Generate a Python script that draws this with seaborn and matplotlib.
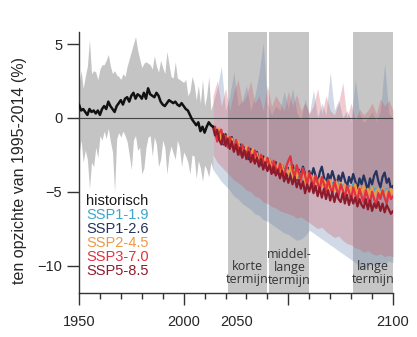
import matplotlib
matplotlib.use("Agg")
import matplotlib.pyplot as plt
import seaborn as sns
import pandas as pd
from matplotlib.lines import Line2D

# ---------------- data ----------------
hist_years = list(range(1950, 2015))
hist_mean = [0.9, 0.5, 0.6, 0.4, 0.2, 0.6, 0.4, 0.5, 0.3, 0.5,
             0.2, 0.6, 0.8, 0.6, 1.1, 0.8, 0.6, 0.4, 0.8, 1.0,
             1.2, 0.9, 1.3, 1.4, 1.1, 1.5, 1.7, 1.3, 1.6, 1.5,
             1.3, 1.7, 1.3, 2.0, 1.6, 1.5, 1.4, 1.7, 1.5, 1.1,
             0.9, 0.8, 1.0, 1.2, 1.1, 1.0, 1.1, 0.9, 0.8, 1.0,
             0.8, 0.6, 0.5, 0.2, -0.1, -0.3, -0.5, -0.3, -0.9, -0.6,
             -1.0, -0.6, -0.3, -0.5, -0.6]
hist_hi = [2.3, 3.2, 2.0, 2.8, 3.5, 5.3, 3.0, 3.2, 3.1, 2.6,
           3.3, 3.6, 3.6, 3.9, 4.3, 3.5, 3.0, 3.2, 2.9, 2.8,
           2.6, 3.0, 2.8, 3.5, 4.0, 4.5, 5.0, 5.5, 4.6, 4.0,
           3.4, 3.7, 3.8, 3.7, 3.6, 3.3, 4.2, 3.5, 3.1, 3.9,
           3.4, 3.0, 4.5, 3.6, 2.8, 2.7, 3.8, 2.7, 2.6, 2.5,
           2.4, 2.6, 1.5, 1.8, 2.8, 2.3, 1.2, 2.2, 1.0, 2.6,
           0.8, 1.5, 2.8, 0.5, 1.0]
hist_lo = [-2.5, -1.5, -3.0, -2.2, -2.8, -4.8, -3.0, -3.3, -2.0, -2.7,
           -1.2, -1.5, -0.9, -1.4, -0.7, -1.6, -2.3, -5.0, -1.4, -1.0,
           -1.3, -0.9, -1.2, -1.6, -2.5, -3.5, -1.5, -1.2, -2.2, -2.0,
           -3.8, -3.4, -2.0, -1.3, -1.2, -2.6, -1.3, -1.8, -3.3, -2.8,
           -1.5, -2.0, -3.8, -2.5, -1.9, -2.4, -2.8, -1.5, -2.0, -3.3,
           -2.3, -2.6, -3.0, -3.8, -2.5, -2.6, -4.1, -2.9, -3.4, -4.3,
           -3.2, -3.5, -4.0, -3.0, -3.5]

scen_years = list(range(2014, 2101))
ssp119 = [-0.6,
          -1.0, -1.2, -1.5, -1.1, -1.6, -1.4, -1.8, -1.6, -2.0, -1.7,
          -2.0, -2.3, -1.9, -2.2, -2.5, -2.3, -2.6, -2.4, -2.8, -2.6,
          -2.9, -2.7, -3.0, -2.8, -3.2, -3.0, -3.3, -3.1, -3.4, -3.3,
          -3.5, -3.3, -3.7, -3.5, -3.8, -3.6, -3.9, -3.7, -4.0, -3.8,
          -4.0, -3.8, -4.1, -3.9, -4.2, -4.0, -4.3, -4.1, -4.2, -4.4,
          -4.2, -4.4, -4.1, -4.5, -4.3, -4.6, -4.4, -4.5, -4.3, -4.6,
          -4.4, -4.7, -4.5, -4.8, -4.6, -4.7, -4.5, -4.8, -4.6, -4.9,
          -4.7, -4.9, -4.6, -4.8, -5.0, -4.7, -4.9, -4.8, -5.0, -4.8,
          -4.9, -5.1, -4.8, -5.0, -4.9, -5.0]
ssp126 = [-0.6,
          -0.8, -1.5, -0.9, -1.3, -1.8, -1.1, -1.5, -1.9, -1.3, -2.1,
          -1.7, -2.3, -1.8, -2.6, -2.0, -2.3, -2.8, -2.1, -2.6, -3.0,
          -2.3, -2.8, -3.2, -2.6, -3.0, -3.5, -2.8, -3.2, -3.7, -3.0,
          -3.4, -3.9, -3.2, -3.6, -4.1, -3.4, -3.8, -3.2, -3.7, -4.2,
          -3.5, -3.9, -3.3, -3.8, -4.3, -3.6, -4.0, -3.4, -3.9, -4.4,
          -3.7, -3.3, -4.0, -4.5, -3.8, -4.2, -3.6, -4.1, -4.6, -3.9,
          -4.3, -3.7, -4.2, -4.7, -4.0, -4.4, -3.8, -4.3, -4.8, -4.1,
          -4.5, -3.9, -4.4, -4.9, -4.1, -4.5, -3.9, -3.6, -4.3, -4.7,
          -4.0, -3.7, -4.4, -4.1, -4.8, -4.6]
ssp245 = [-0.6,
          -0.9, -1.4, -0.7, -1.6, -1.1, -1.7, -1.2, -2.0, -1.4, -1.9,
          -2.2, -1.6, -2.3, -1.8, -2.5, -1.9, -2.4, -2.7, -2.1, -2.8,
          -2.4, -3.0, -2.5, -3.1, -2.7, -3.3, -2.8, -3.4, -3.0, -3.6,
          -3.1, -3.7, -3.2, -3.9, -3.4, -3.8, -3.3, -4.0, -3.5, -4.1,
          -3.6, -4.2, -3.7, -4.4, -3.8, -4.3, -3.9, -4.5, -4.0, -4.6,
          -4.1, -4.7, -4.2, -4.4, -4.8, -4.2, -4.7, -4.9, -4.3, -4.8,
          -4.4, -5.0, -4.5, -4.9, -5.1, -4.6, -5.0, -4.5, -5.2, -4.7,
          -5.1, -4.6, -5.3, -4.8, -5.2, -4.7, -5.4, -4.9, -4.8, -5.3,
          -4.8, -5.4, -4.9, -5.3, -4.8, -5.1]
ssp370 = [-0.6,
          -0.6, -1.6, -1.0, -0.8, -1.7, -1.2, -2.0, -1.3, -1.7, -2.2,
          -1.5, -2.0, -2.5, -1.8, -2.2, -2.7, -2.0, -2.5, -2.9, -2.2,
          -2.7, -3.2, -2.5, -2.9, -3.4, -2.7, -3.2, -3.7, -2.9, -3.4,
          -3.8, -3.1, -3.6, -4.0, -3.3, -2.9, -2.6, -3.5, -4.0, -3.2,
          -3.7, -4.2, -3.4, -3.9, -4.5, -3.7, -4.2, -4.7, -3.9, -4.4,
          -4.9, -4.0, -4.5, -5.0, -4.2, -4.7, -5.1, -4.3, -4.8, -5.3,
          -4.5, -4.9, -5.4, -4.6, -5.0, -5.5, -4.7, -5.2, -5.6, -4.8,
          -5.3, -5.7, -4.9, -5.4, -5.8, -5.0, -5.5, -5.9, -5.1, -5.5,
          -4.9, -5.4, -5.8, -5.0, -5.5, -5.3]
ssp585 = [-0.6,
          -1.2, -0.8, -1.5, -1.8, -1.1, -1.9, -1.4, -2.1, -1.6, -2.3,
          -1.8, -2.5, -2.0, -2.7, -2.2, -2.8, -2.3, -3.0, -2.5, -3.1,
          -2.7, -3.3, -2.8, -3.5, -3.0, -3.6, -3.2, -3.8, -3.3, -3.9,
          -3.5, -4.1, -3.6, -4.3, -3.8, -4.4, -3.9, -4.5, -4.0, -4.7,
          -4.2, -4.8, -4.3, -5.1, -4.5, -5.0, -4.4, -5.1, -4.6, -5.3,
          -4.7, -5.4, -4.8, -5.5, -4.9, -5.6, -5.0, -5.7, -5.1, -5.5,
          -5.7, -5.1, -5.8, -5.2, -5.9, -5.3, -5.8, -5.4, -6.0, -5.5,
          -5.9, -6.1, -5.5, -6.2, -5.6, -6.3, -5.8, -6.1, -5.7, -6.3,
          -5.8, -6.4, -5.9, -6.2, -6.5, -6.3]

band_years = list(range(2014, 2101, 2))
blue_hi = [1.0, 2.0, 3.5, 0.5, 1.5, 3.1, 0.8, 1.2, 2.2, 0.5,
           1.5, 3.0, 5.1, 1.0, 0.2, 0.8, 0.5, 1.8, 0.6, 2.0,
           0.4, -0.2, 1.3, 0.2, 1.9, 0.0, 1.0, 0.2, 3.1, 0.5,
           1.2, 0.0, 0.5, -0.2, 2.6, 0.3, -0.3, 0.0, 0.4, -0.2,
           0.5, 3.7, 0.3, 0.0]
blue_lo = [-3.5, -3.9, -4.3, -4.6, -4.9, -5.3, -5.5, -5.8, -6.0, -6.2,
           -6.5, -6.6, -6.9, -7.0, -7.2, -7.4, -7.6, -7.8, -7.9, -8.1,
           -8.3, -8.2, -8.0, -7.6, -7.8, -8.0, -8.2, -8.4, -8.6, -8.8,
           -9.0, -9.2, -9.4, -9.6, -9.8, -10.1, -10.3, -10.0, -9.9, -10.0,
           -9.8, -9.9, -9.7, -9.8]
red_hi = [1.5, 2.5, 0.8, 2.0, 0.5, 1.8, 2.6, 1.0, 1.5, 2.5,
          1.0, 1.5, 0.5, 2.2, 0.8, 1.5, 1.0, 0.5, 1.8, 0.8,
          1.6, 0.5, 1.0, 0.3, 0.8, 2.0, 0.3, 1.5, 0.5, 0.2,
          1.0, 2.4, 0.0, 1.0, -0.2, 0.6, 0.2, 0.5, 1.0, 0.3,
          1.3, 0.8, 1.2, 0.5]
red_lo = [-2.5, -3.0, -3.3, -3.6, -3.9, -4.2, -4.4, -4.6, -4.9, -5.0,
          -5.3, -5.4, -5.7, -5.8, -6.0, -6.1, -6.3, -6.4, -6.5, -6.6,
          -6.8, -6.7, -6.9, -7.1, -7.3, -7.5, -7.4, -7.7, -7.9, -8.1,
          -8.0, -8.3, -8.5, -8.6, -8.8, -8.9, -9.1, -9.0, -9.2, -9.3,
          -9.2, -9.4, -9.3, -9.4]

periods = [(2021, 2040), (2041, 2060), (2081, 2100)]
period_labels = ["korte\ntermijn", "middel-\nlange\ntermijn", "lange\ntermijn"]

scenarios = ["SSP1-1.9", "SSP1-2.6", "SSP2-4.5", "SSP3-7.0", "SSP5-8.5"]
scen_colors = ["#3aa6cf", "#25335e", "#ee9a45", "#e2313f", "#8e1b2c"]
legend_labels = ["historisch"] + scenarios
legend_colors = ["#1a1a1a"] + scen_colors

xticks = [1950, 2000, 2050, 2100]
yticks = [5, 0, -5, -10]

# ---------------- plot ----------------
sns.set_theme(style="ticks")
plt.rcParams["font.family"] = ["Liberation Sans", "DejaVu Sans"]

fig = plt.figure(figsize=(4.17, 3.37), dpi=100)
ax = fig.add_axes([79 / 417, 1 - 293 / 337, 314 / 417, 261.5 / 337])

for a, b in periods:
    ax.axvspan(a, b, color="#c6c6c6", lw=0, zorder=0)

ax.fill_between(hist_years, hist_lo, hist_hi, color="#c4c4c4", lw=0, zorder=1)
ax.fill_between(band_years, blue_lo, blue_hi, color="#6483aa", alpha=0.30, lw=0, zorder=2)
ax.fill_between(band_years, red_lo, red_hi, color="#cf5565", alpha=0.30, lw=0, zorder=2)
ax.axhline(0, color="#444444", lw=0.8, zorder=3)

df = pd.DataFrame({
    "year": scen_years * 5,
    "value": ssp119 + ssp126 + ssp245 + ssp370 + ssp585,
    "scenario": sum([[s] * len(scen_years) for s in scenarios], []),
})
sns.lineplot(data=df, x="year", y="value", hue="scenario", hue_order=scenarios,
             palette=scen_colors, lw=1.6, estimator=None, legend=False, ax=ax, zorder=4)
sns.lineplot(x=hist_years, y=hist_mean, color="#111111", lw=1.8, estimator=None, ax=ax, zorder=5)

ax.set_xlim(1950, 2100)
ax.set_ylim(-11.86, 5.85)
ax.set_xticks(xticks)
ax.set_xticklabels(["1950", "2000", "", "2100"])
ax.set_xticks(list(range(1950, 2101, 10)), minor=True)
ax.set_yticks(yticks)
ax.tick_params(axis="x", which="major", length=8.6, width=1.0, pad=7, labelsize=10.5, color="#333333")
ax.tick_params(axis="x", which="minor", length=4.6, width=1.0, color="#333333")
ax.tick_params(axis="y", which="major", length=8.4, width=1.0, pad=3.6, labelsize=10.5, color="#333333")
ax.annotate("2050", xy=(2025.5, 0), xycoords=("data", "axes fraction"),
            xytext=(0, -15.6), textcoords="offset points", ha="center", va="top",
            fontsize=10.5, color="#262626")

for s in ["top", "right"]:
    ax.spines[s].set_visible(False)
for s in ["left", "bottom"]:
    ax.spines[s].set_color("#333333")
    ax.spines[s].set_linewidth(1.0)

ax.set_xlabel("")
ax.set_ylabel("ten opzichte van 1995-2014 (%)", fontsize=11.5, color="#262626")
ax.yaxis.set_label_coords(-0.165, 0.47)

for (a, b), lab in zip(periods, period_labels):
    ax.text((a + b) / 2, -10.5 if lab.count("\n") == 1 else -10.1, lab, ha="center", va="center",
            fontsize=9.0, family=["Open Sans", "DejaVu Sans"], color="#333333",
            linespacing=1.0, zorder=6)

handles = [Line2D([], [], lw=0) for _ in legend_labels]
leg = ax.legend(handles, legend_labels, loc="upper left", bbox_to_anchor=(0.022, 0.379),
                frameon=False, handlelength=0, handletextpad=0, labelspacing=0.0,
                borderaxespad=0, borderpad=0, fontsize=10.5, labelcolor=legend_colors)

fig.savefig("out.png", dpi=100)
